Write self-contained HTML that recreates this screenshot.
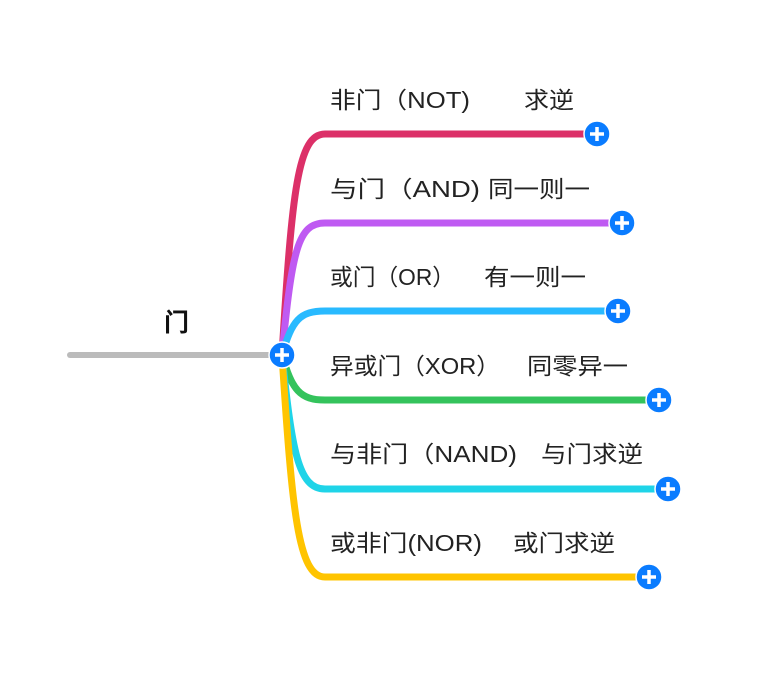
<!DOCTYPE html>
<html><head><meta charset="utf-8"><style>
html,body{margin:0;padding:0;background:#fff;}
svg text{font-family:"Liberation Sans","Noto Sans CJK SC",sans-serif;font-size:23px;fill:#222;}
</style></head><body>
<svg width="781" height="695" viewBox="0 0 781 695" xmlns="http://www.w3.org/2000/svg">
<line x1="70" y1="355" x2="282" y2="355" stroke="#bbbbbb" stroke-width="6" stroke-linecap="round"/>
<g fill="none" stroke-width="7" stroke-linecap="round">
<path d="M282,355 C292,190 298,134 325,134 L597,134" stroke="#dc3068"/>
<path d="M282,355 C292,250 298,223 325,223 L622,223" stroke="#bf5af2"/>
<path d="M282,355 C292,320 300,311 325,311 L618,311" stroke="#29baff"/>
<path d="M282,355 C292,390 300,400 325,400 L659,400" stroke="#34c35c"/>
<path d="M282,355 C292,450 298,489 325,489 L668,489" stroke="#1fd4e8"/>
<path d="M282,355 C292,510 298,577 325,577 L649,577" stroke="#ffc400"/>
</g>
<text x="164" y="331" style="font-size:25px;font-weight:bold;fill:#111">门</text>
<text x="330" y="108" textLength="140" lengthAdjust="spacingAndGlyphs">非门（NOT)</text><text x="524" y="108" textLength="50" lengthAdjust="spacingAndGlyphs">求逆</text>
<text x="330" y="197" textLength="150" lengthAdjust="spacingAndGlyphs">与门（AND)</text><text x="488" y="197" textLength="102" lengthAdjust="spacingAndGlyphs">同一则一</text>
<text x="330" y="285" textLength="125" lengthAdjust="spacingAndGlyphs">或门（OR）</text><text x="484" y="285" textLength="102" lengthAdjust="spacingAndGlyphs">有一则一</text>
<text x="330" y="374" textLength="170" lengthAdjust="spacingAndGlyphs">异或门（XOR）</text><text x="527" y="374" textLength="101" lengthAdjust="spacingAndGlyphs">同零异一</text>
<text x="330" y="462" textLength="187" lengthAdjust="spacingAndGlyphs">与非门（NAND)</text><text x="541" y="462" textLength="102" lengthAdjust="spacingAndGlyphs">与门求逆</text>
<text x="330" y="551" textLength="152" lengthAdjust="spacingAndGlyphs">或非门(NOR)</text><text x="513" y="551" textLength="102" lengthAdjust="spacingAndGlyphs">或门求逆</text>
<g>
<g transform="translate(282,355)"><circle r="13" fill="#0a7cff" stroke="#fff" stroke-width="1.5"/><path d="M-7,0H7M0,-7V7" stroke="#fff" stroke-width="3.5"/></g>
<g transform="translate(597,134)"><circle r="13" fill="#0a7cff" stroke="#fff" stroke-width="1.5"/><path d="M-7,0H7M0,-7V7" stroke="#fff" stroke-width="3.5"/></g>
<g transform="translate(622,223)"><circle r="13" fill="#0a7cff" stroke="#fff" stroke-width="1.5"/><path d="M-7,0H7M0,-7V7" stroke="#fff" stroke-width="3.5"/></g>
<g transform="translate(618,311)"><circle r="13" fill="#0a7cff" stroke="#fff" stroke-width="1.5"/><path d="M-7,0H7M0,-7V7" stroke="#fff" stroke-width="3.5"/></g>
<g transform="translate(659,400)"><circle r="13" fill="#0a7cff" stroke="#fff" stroke-width="1.5"/><path d="M-7,0H7M0,-7V7" stroke="#fff" stroke-width="3.5"/></g>
<g transform="translate(668,489)"><circle r="13" fill="#0a7cff" stroke="#fff" stroke-width="1.5"/><path d="M-7,0H7M0,-7V7" stroke="#fff" stroke-width="3.5"/></g>
<g transform="translate(649,577)"><circle r="13" fill="#0a7cff" stroke="#fff" stroke-width="1.5"/><path d="M-7,0H7M0,-7V7" stroke="#fff" stroke-width="3.5"/></g>
</g>
</svg>
</body></html>
